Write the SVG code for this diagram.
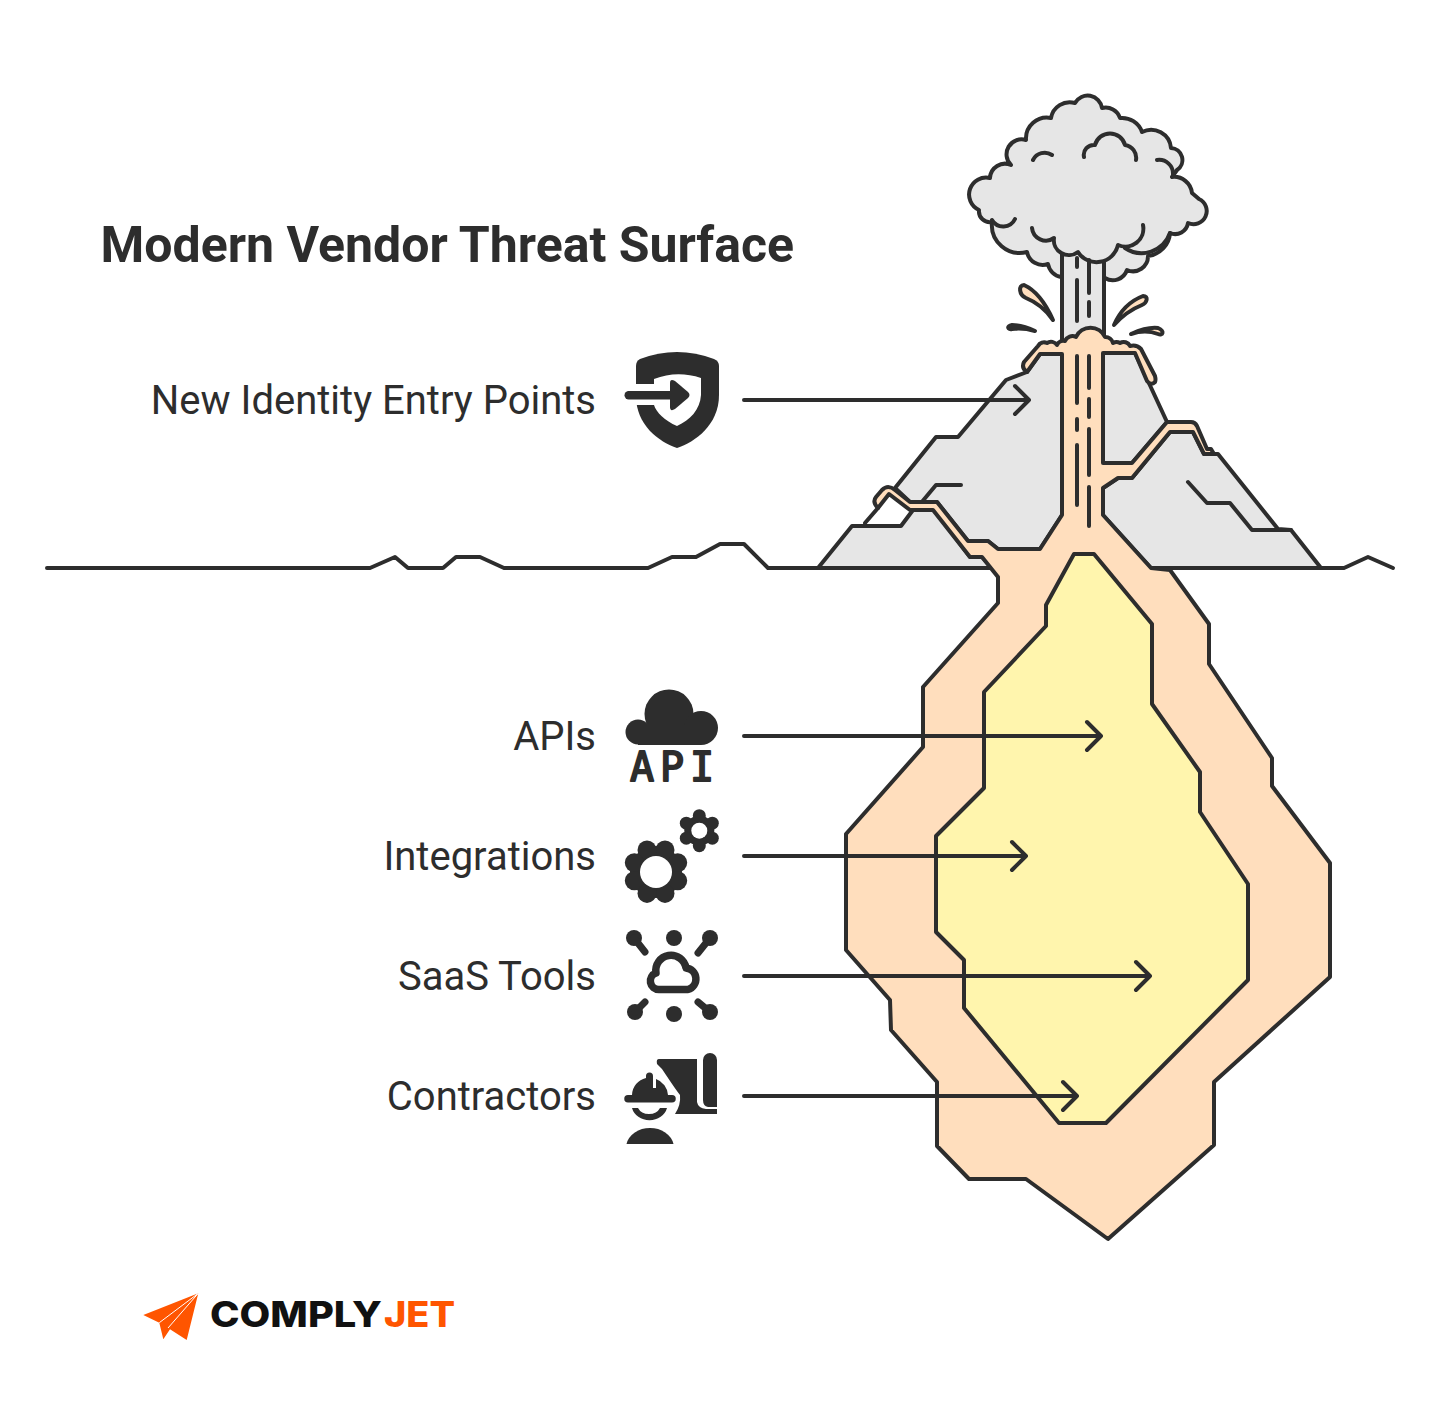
<svg xmlns="http://www.w3.org/2000/svg" width="1440" height="1420" viewBox="0 0 1440 1420">
<style>
.s{stroke:#2d2d2d;stroke-width:4;stroke-linejoin:round;stroke-linecap:round;fill:none}
.g{fill:#e6e6e6}.p{fill:#ffdebd}.y{fill:#fff5ad}
.d{fill:#2d2d2d}.w{fill:#fff}
.l{font-family:Roboto,"Liberation Sans",sans-serif;font-size:40px;fill:#2d2d2d;text-anchor:end}
.a{stroke:#2d2d2d;stroke-width:4;stroke-linecap:round;stroke-linejoin:round;fill:none}
</style>
<rect width="1440" height="1420" fill="#fff"/>
<g id="scene">
<polyline class="s" points="47,568 370,568 395,557 408,568 443,568 456,557 480,557 504,568 648,568 672,557 696,557 720,544 744,544 768,568 818,568"/>
<polyline class="s" points="1320,568 1344,568 1368,557 1393,568"/>
<path class="s g" d="M1061 277A16 16 0 0 1 1048 264A16 16 0 0 1 1027 252A28 28 0 0 1 992 222A11 11 0 0 1 979 210A17 17 0 0 1 990 178A15 15 0 0 1 1011 165A15 15 0 0 1 1026 140A21 21 0 0 1 1051 118A19 19 0 0 1 1075 103A14.500 14.500 0 0 1 1102 108A15 15 0 0 1 1120 118A21 21 0 0 1 1142 132A20 20 0 0 1 1171 148A12 12 0 0 1 1177 170L1172 177A18 18 0 0 1 1192 193L1199 199A13.200 13.200 0 0 1 1188 223A13 13 0 0 1 1170 233A25 25 0 0 1 1148 256A15 15 0 0 1 1127 270A15 15 0 0 1 1105 278Z"/>
<rect class="s g" x="1062" y="240" width="42" height="105"/>
<path class="g" d="M1054 238A15 15 0 0 0 1078 252A22 22 0 0 0 1118 245A18 18 0 0 0 1143 225L1140 190L1040 190Z"/>
<path class="s" d="M1033 160A13 13 0 0 1 1052 155M1084 157A10 10 0 0 1 1095 145A15.500 15.500 0 0 1 1125 145A13 13 0 0 1 1136 160M1157 160A14 14 0 0 1 1173 175M992 220A13 13 0 0 0 1015 219M1032 228A14 14 0 0 0 1054 238A15 15 0 0 0 1078 252A22 22 0 0 0 1118 245A18 18 0 0 0 1143 225M1125 248A30 30 0 0 0 1170 233"/>
<path class="s" d="M1077 258V267M1077 280V321M1089 260V293M1089 302V316"/>
<path class="s p" d="M1053 320C1045 302 1035 290 1024 285C1018 285 1019 295 1026 298C1036 302 1046 310 1053 320Z"/>
<path class="s p" d="M1035 331C1027 327 1019 325 1012 325C1006 326 1008 330 1012 329C1020 328 1028 329 1035 331Z"/>
<path class="s p" d="M1114 325C1120 311 1130 301 1143 296C1149 296 1147 303 1142 305C1132 309 1122 316 1114 325Z"/>
<path class="s p" d="M1131 334C1140 330 1150 327 1158 328C1165 331 1163 336 1158 334C1150 331 1140 331 1131 334Z"/>
<path class="s g" d="M818 568L852 526H901L913 510L933 508L970 557H982L992 568Z"/>
<path class="s g" d="M895 488L936 437H958L1006 380L1027 372L1040 354H1062V515L1040 549H998L988 541H968L937 502H910Z"/>
<path class="s" d="M865 523L878 508M921 503L936 485H961"/>
<path class="s g" d="M1103 353H1135L1167 422L1132 463H1103Z"/>
<path class="s g" d="M1103 488L1118 478H1132L1170 432H1193L1204 454H1218L1278 529L1291 530L1321 568H1151L1103 515Z"/>
<path class="s" d="M1188 482L1207 503H1230L1252 530H1291"/>
<path class="s p" d="M998 577V603L923 687V747L846 834V950L890 1000L891 1030L937 1082V1146L969 1179H1026L1108 1239L1214 1145V1082L1330 977V863L1272 786V758L1209 664V624L1170 570L1151 568L1103 515V488L1118 478H1132L1170 432H1193L1204 454H1214L1211 449H1207L1197 426Q1195 422 1191 422H1167L1132 463H1103V353H1135L1147 381Q1151 386 1155 382Q1156 380 1155 376L1141 349A11 11 0 0 0 1130 346A7 7 0 0 0 1120 343A7 7 0 0 0 1113 343A8 8 0 0 0 1105 337A16 16 0 0 0 1076 337A8 8 0 0 0 1065 341A7 7 0 0 0 1057 345A7 7 0 0 0 1047 343A7 7 0 0 0 1038 346L1024 362Q1021 368 1027 372L1040 354H1062V515L1040 549H998L988 541H968L937 502H910L895 490Q888 484 882 490L876 497Q872 502 878 508L889 494L910 510H933L970 557H982L998 577Z"/>
<path class="s" d="M1077 356V403M1077 419V430M1077 445V505M1089 356V388M1089 399V417M1089 429V475M1089 487V526"/>
<path class="s y" d="M1074 554H1094L1152 624V704L1200 772V812L1248 884V980L1106 1123H1059L964 1008V960L936 932V836L984 788V692L1046 626V605Z"/>
</g>
<g id="connectors">
<path class="a" d="M744 400H1029M1015 386L1029 400L1015 414"/>
<path class="a" d="M744 736H1101M1087 722L1101 736L1087 750"/>
<path class="a" d="M744 856H1026M1012 842L1026 856L1012 870"/>
<path class="a" d="M744 976H1150M1136 962L1150 976L1136 990"/>
<path class="a" d="M744 1096H1077M1063 1082L1077 1096L1063 1110"/>
</g>
<text id="title" x="100.500" y="262" font-family="Roboto,'Liberation Sans',sans-serif" font-weight="700" font-size="50" fill="#2d2d2d">Modern Vendor Threat Surface</text>
<g id="node-identity">
<text class="l" x="596" y="414">New Identity Entry Points</text>
<path class="d" d="M636 366Q636 361 640 359Q677 345 714 359Q719 361 719 366V395C719 425 695 442 677 448C659 442 636 425 636 396Z"/>
<path class="w" d="M632 384H654V379Q677 370 701 378V395C700 410 690 420 677 426C665 421 656 412 654 405H632Z"/>
<rect class="d" x="624.500" y="391" width="50" height="8.500" rx="4.200"/>
<path class="d" d="M670 383Q670 378 675 381L688 392Q691 395 688 398L675 409Q670 412 670 407Z"/>
</g>
<g id="node-apis">
<text class="l" x="596" y="750">APIs</text>
<circle class="d" cx="638" cy="732" r="12.500"/><circle class="d" cx="669" cy="714" r="24.500"/><circle class="d" cx="701" cy="728" r="17"/>
<rect class="d" x="638" y="725" width="63" height="20"/>
<text x="630" y="781" font-family="'DejaVu Sans Mono',monospace" font-size="40" fill="#2d2d2d" stroke="#2d2d2d" stroke-width="1.800" stroke-linejoin="round" textLength="84" lengthAdjust="spacing">API</text>
</g>
<g id="node-integrations">
<text class="l" x="596" y="870">Integrations</text>
<g class="d"><circle cx="656" cy="872" r="26"/><circle cx="665" cy="850" r="9.500"/><circle cx="647" cy="850" r="9.500"/><circle cx="677.700" cy="862.700" r="9.500"/><circle cx="634.300" cy="862.700" r="9.500"/><circle cx="677.700" cy="880.700" r="9.500"/><circle cx="634.300" cy="880.700" r="9.500"/><circle cx="665" cy="893.400" r="9.500"/><circle cx="647" cy="893.400" r="9.500"/>
<circle cx="699.300" cy="830.700" r="15"/><circle cx="699.300" cy="815.700" r="6.500"/><circle cx="699.300" cy="845.700" r="6.500"/><circle cx="712.300" cy="823.200" r="6.500"/><circle cx="686.300" cy="823.200" r="6.500"/><circle cx="712.300" cy="838.200" r="6.500"/><circle cx="686.300" cy="838.200" r="6.500"/></g>
<circle class="w" cx="656" cy="872" r="16"/><circle class="w" cx="699.300" cy="830.700" r="8"/>
</g>
<g id="node-saas">
<text class="l" x="596" y="990">SaaS Tools</text>
<g class="d"><circle cx="674" cy="938" r="8"/><circle cx="674" cy="1014" r="8"/><circle cx="634" cy="938" r="8"/><circle cx="710" cy="938" r="8"/><circle cx="635" cy="1012" r="8"/><circle cx="710" cy="1012" r="8"/></g>
<path fill="none" stroke="#2d2d2d" stroke-width="7" stroke-linecap="round" d="M634 938L645 952M710 938L698 953M635 1012L645 1002M710 1012L698 1002"/>
<path fill="none" stroke="#2d2d2d" stroke-width="7.500" stroke-linejoin="round" d="M659 989.500A8.500 8.500 0 0 1 656 973A15 15 0 0 1 686 968A11 11 0 0 1 688 989.500Z"/>
</g>
<g id="node-contractors">
<text class="l" x="596" y="1110">Contractors</text>
<path class="d" d="M659 1059H697V1102Q698 1108 706 1109H717V1114H675Q681 1105 680 1095Q676 1090 666 1075Q662 1068 657 1064Q656 1059 659 1059Z"/>
<path class="d" d="M703 1060A7 7 0 0 1 717 1060V1107H708Q703 1106 703 1100Z"/>
<path class="d" d="M632 1095A18 18 0 0 1 646 1078V1076A3.500 3.500 0 0 1 653 1076V1088H656V1079A18 18 0 0 1 668 1095H672A3.700 3.700 0 0 1 672 1102.500H628A3.700 3.700 0 0 1 628 1095Z"/>
<path class="d" d="M632 1108H638A12 10 0 0 0 660 1108H667A18 16 0 0 1 632 1108Z"/>
<path class="d" d="M626.500 1144A24 20 0 0 1 673.500 1144Z"/>
</g>
<g id="logo">
<path fill="#ff5500" d="M198.300 1293.300L143.300 1315L159.300 1322.700L163.300 1339.300L170 1329.300L186.700 1340Z"/>
<path fill="none" stroke="#fff" stroke-width="1" d="M198.300 1293.300L159.300 1322.700M198.300 1293.300L168 1328"/>
<text x="210" y="1327" font-family="Inter,'Liberation Sans',sans-serif" font-weight="800" font-size="35" fill="#111" textLength="172" lengthAdjust="spacingAndGlyphs">COMPLY</text>
<text x="384" y="1327" font-family="Inter,'Liberation Sans',sans-serif" font-weight="800" font-size="35" fill="#ff5500" textLength="71" lengthAdjust="spacingAndGlyphs">JET</text>
</g>
</svg>
